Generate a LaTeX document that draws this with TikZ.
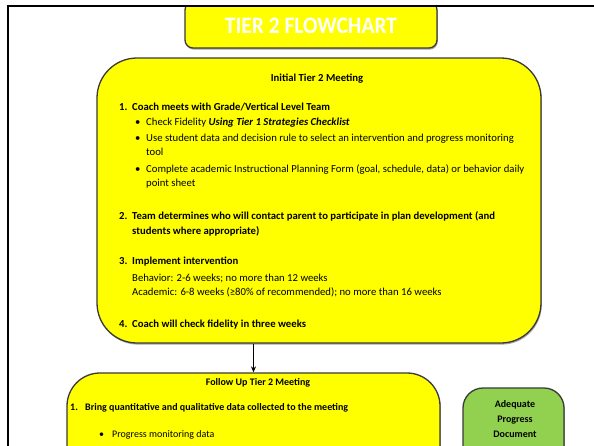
\documentclass[tikz,border=0pt]{standalone}
\usepackage{fontspec}
\setmainfont{Carlito}
\usetikzlibrary{shadows,arrows.meta}
\definecolor{boxyellow}{HTML}{FFFF00}
\definecolor{boxgreen}{HTML}{92D050}
\definecolor{edgegray}{HTML}{3A3A3A}
\begin{document}
\begin{tikzpicture}[x=1pt,y=-1pt,
  panel/.style={draw=edgegray, line width=1.3pt, fill=boxyellow, inner sep=0pt,
    drop shadow={shadow xshift=0.8pt, shadow yshift=-1.6pt, fill=black, opacity=0.35}},
  ln/.style={anchor=base west, inner sep=0pt, font=\fontsize{10.7}{12}\selectfont},
  lnb/.style={anchor=base west, inner sep=0pt, font=\fontsize{10.7}{12}\selectfont\bfseries},
  sm/.style={anchor=base west, inner sep=0pt, font=\fontsize{10}{12}\selectfont},
  smb/.style={anchor=base west, inner sep=0pt, font=\fontsize{10}{12}\selectfont\bfseries},
  heading/.style={anchor=base, inner sep=0pt, font=\fontsize{10.7}{12}\selectfont\bfseries},
  flow/.style={-{Stealth[length=6pt,width=5pt]}, line width=1.2pt, black}
]
\useasboundingbox (0,0) rectangle (594,445);
\clip (0,0) rectangle (594,445);
\fill[white] (0,0) rectangle (594,445);

% title banner: square top hidden under the frame, rounded bottom
\path[panel, rounded corners=8pt] (185,2) -- (185,48) -- (437,48) -- (437,2) -- cycle;
\node[inner sep=0pt, font=\fontsize{21.5}{24}\selectfont\bfseries, text=white,
  yscale=1.1] (title) at (311,26) {TIER 2 FLOWCHART};

% outer frame
\fill[white] (0,0) rectangle (594,5);
\draw[line width=2.5pt, black] (8,450) -- (8,6) -- (600,6);

% initial meeting panel
\node[panel, rounded corners=40pt, minimum width=444pt, minimum height=285pt] (initial) at (319,200.5) {};
\node[heading] (h1) at (317,81) {Initial Tier 2 Meeting};
\node[lnb] (n1) at (119,110) {1.};
\node[lnb] (s1) at (132,110) {Coach meets with Grade/Vertical Level Team};
\node[ln] (b1) at (135,125) {•};
\node[ln] (s1a) at (146,125) {Check Fidelity \textbf{\textit{Using Tier 1 Strategies Checklist}}};
\node[ln] (b2) at (135,141) {•};
\node[ln] (s1b) at (146,141) {Use student data and decision rule to select an intervention and progress monitoring};
\node[ln] (s1c) at (146,155) {tool};
\node[ln] (b3) at (135,172) {•};
\node[ln] (s1d) at (146,172) {Complete academic Instructional Planning Form (goal, schedule, data) or behavior daily};
\node[ln] (s1e) at (146,186) {point sheet};
\node[lnb] (n2) at (119,219) {2.};
\node[lnb] (s2) at (132,219) {Team determines who will contact parent to participate in plan development (and};
\node[lnb] (s2a) at (132,234) {students where appropriate)};
\node[lnb] (n3) at (119,264) {3.};
\node[lnb] (s3) at (132,264) {Implement intervention};
\node[ln] (s3a) at (132,281) {Behavior: 2-6 weeks; no more than 12 weeks};
\node[ln] (s3b) at (132,295) {Academic: 6-8 weeks (≥80\% of recommended); no more than 16 weeks};
\node[lnb] (n4) at (119,327) {4.};
\node[lnb] (s4) at (132,327) {Coach will check fidelity in three weeks};

% follow-up panel
\node[panel, rounded corners=33pt, minimum width=373pt, minimum height=160pt] (followup) at (253.5,453) {};
\node[heading, font=\fontsize{10}{12}\selectfont\bfseries] (h2) at (258,385) {Follow Up Tier 2 Meeting};
\node[smb] (m1) at (70,410) {1.};
\node[smb] (f1) at (85,410) {Bring quantitative and qualitative data collected to the meeting};
\node[sm] (fb1) at (99,437) {•};
\node[sm] (f1a) at (112,437) {Progress monitoring data};

% outcome panel
\node[panel, fill=boxgreen, rounded corners=20pt, minimum width=101pt, minimum height=120pt] (adequate) at (513.5,448) {};
\node[heading, font=\fontsize{10}{12}\selectfont\bfseries] (g1) at (515,407) {Adequate};
\node[heading, font=\fontsize{10}{12}\selectfont\bfseries] (g2) at (515,422) {Progress};
\node[heading, font=\fontsize{10}{12}\selectfont\bfseries] (g3) at (515,437) {Document};

% connector
\draw[flow] (initial.south -| followup.north) -- (followup.north);
\end{tikzpicture}
\end{document}
